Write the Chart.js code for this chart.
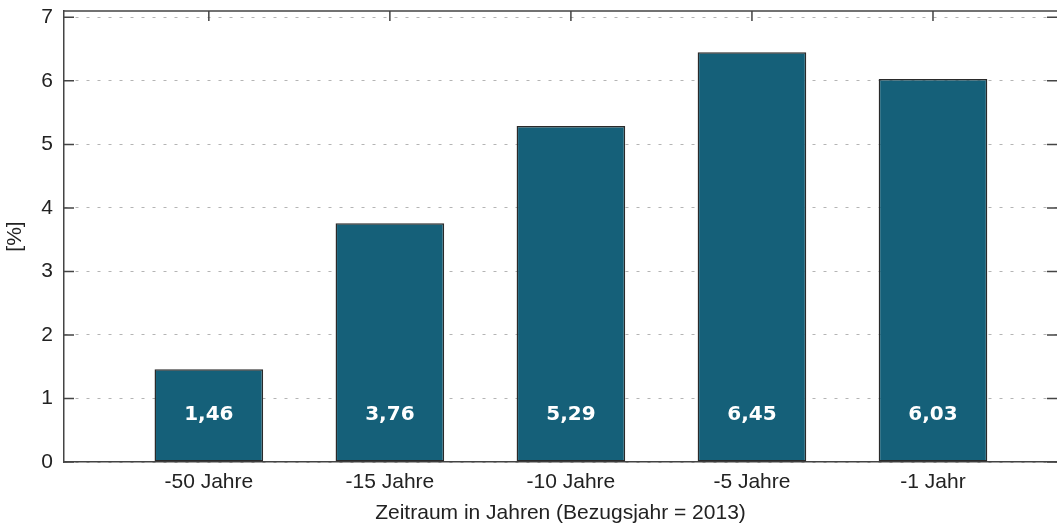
<!DOCTYPE html>
<html><head><meta charset="utf-8">
<script src="https://cdn.jsdelivr.net/npm/chart.js@4.4.1/dist/chart.umd.min.js"></script>
<style>html,body{margin:0;padding:0;background:#fff}#wrap{width:1057px;height:532px;position:relative}</style>
</head><body><div id="wrap"><canvas id="c"></canvas></div>
<script>
const categories = ['-50 Jahre', '-15 Jahre', '-10 Jahre', '-5 Jahre', '-1 Jahr'];
const values = [1.46, 3.76, 5.29, 6.45, 6.03];
const yTicks = [0, 1, 2, 3, 4, 5, 6, 7];
const xTitle = 'Zeitraum in Jahren (Bezugsjahr = 2013)';
const yTitle = '[%]';

const AXIS = '#444';
const TXT = '#222';
const FONT = "'Liberation Sans', Arial, sans-serif";

const framePlugin = {
  id: 'frame',
  afterDatasetsDraw(chart) {
    const {ctx, chartArea: a, scales: {x, y}} = chart;
    ctx.save();
    ctx.strokeStyle = AXIS;
    ctx.lineWidth = 1.5;
    ctx.beginPath();
    ctx.moveTo(a.left, a.top); ctx.lineTo(a.right, a.top);
    yTicks.forEach(v => {
      const p = y.getPixelForValue(v);
      ctx.moveTo(a.left, p); ctx.lineTo(a.left + 10, p);
      ctx.moveTo(a.right - 10, p); ctx.lineTo(a.right, p);
    });
    categories.forEach((c, i) => {
      const p = x.getPixelForValue(i);
      ctx.moveTo(p, a.top); ctx.lineTo(p, a.top + 10);
    });
    ctx.stroke();
    ctx.fillStyle = '#fff';
    ctx.font = "bold 20px 'DejaVu Sans', sans-serif";
    ctx.textAlign = 'center';
    ctx.textBaseline = 'middle';
    values.forEach((v, i) => {
      ctx.fillText(v.toFixed(2).replace('.', ','), x.getPixelForValue(i), y.getPixelForValue(0.75));
    });
    ctx.restore();
  }
};

new Chart(document.getElementById('c'), {
  type: 'bar',
  data: {
    datasets: [{
      data: values.map((v, i) => ({x: i, y: v})),
      backgroundColor: '#156079',
      borderColor: '#2a2a2a',
      borderWidth: 1.5,
      borderSkipped: false,
      barPercentage: 0.6,
      categoryPercentage: 1
    }]
  },
  options: {
    responsive: true,
    maintainAspectRatio: false,
    animation: false,
    layout: {padding: {top: 11, right: 0, left: 0, bottom: 0}},
    plugins: {legend: {display: false}, tooltip: {enabled: false}},
    scales: {
      x: {
        type: 'linear',
        min: -0.8,
        max: 4.685,
        offset: false,
        afterBuildTicks: s => { s.ticks = categories.map((c, i) => ({value: i})); },
        afterFit: s => { s.height = 70; s.paddingLeft = 0; s.paddingRight = 0; },
        ticks: {
          callback: (v, i) => categories[i],
          font: {family: FONT, size: 21},
          color: TXT,
          padding: 8,
          maxRotation: 0,
          autoSkip: false
        },
        grid: {display: false, drawTicks: false},
        border: {display: true, color: AXIS, width: 1.5},
        title: {display: true, text: xTitle, font: {family: FONT, size: 21}, color: TXT, padding: {top: 0, bottom: 6}}
      },
      y: {
        type: 'linear',
        min: 0,
        max: 7.1,
        afterBuildTicks: s => { s.ticks = yTicks.map(v => ({value: v})); },
        afterFit: s => { s.width = 64; s.paddingTop = 0; s.paddingBottom = 0; },
        ticks: {
          callback: v => String(v),
          font: {family: FONT, size: 21},
          color: TXT,
          padding: 11
        },
        grid: {color: '#b4b4b4', lineWidth: 1, drawTicks: false},
        border: {display: true, color: AXIS, width: 1.5, dash: [3, 8]},
        title: {display: true, text: yTitle, font: {family: FONT, size: 21}, color: TXT, padding: {top: 3, bottom: 0}}
      }
    }
  },
  plugins: [framePlugin]
});
</script>
</body></html>
